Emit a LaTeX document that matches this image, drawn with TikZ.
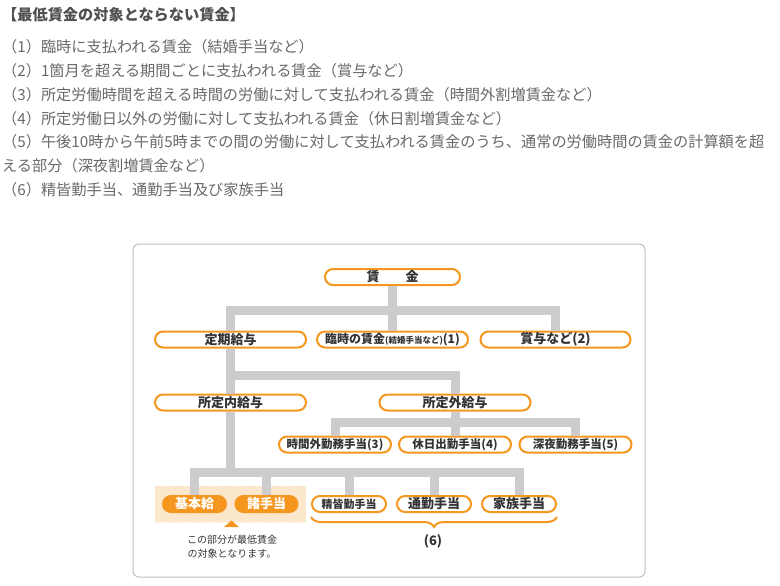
\documentclass[tikz,border=0pt]{standalone}
\usepackage{fontspec}
\setmainfont{Noto Sans CJK JP}
\usetikzlibrary{positioning}
\usetikzlibrary{fit}
\usetikzlibrary{backgrounds}
\usetikzlibrary{patterns}
\usetikzlibrary{decorations.pathreplacing}
\definecolor{chartorange}{RGB}{245,150,30}
\definecolor{bargray}{RGB}{204,204,204}
\definecolor{framegray}{RGB}{190,190,190}
\definecolor{textgray}{RGB}{105,105,105}
\definecolor{titlegray}{RGB}{80,80,80}
\definecolor{nodetext}{RGB}{51,51,51}
\definecolor{hlfill}{RGB}{253,237,214}
\definecolor{hlline}{RGB}{250,222,185}
\tikzset{
    treenode/.style = {align=center, inner sep=0pt, text centered},
    pill_node/.style = {treenode, rectangle, rounded corners=8pt, draw=chartorange, fill=white, line width=2pt, minimum height=16pt, text=nodetext, font=\bfseries\fontsize{13}{13}\selectfont},
    small_pill/.style = {pill_node, font=\bfseries\fontsize{11.5}{11.5}\selectfont},
    solid_node/.style = {pill_node, fill=chartorange, text=white},
    bar_line/.style = {draw=bargray, line width=9pt},
    body_text/.style = {anchor=base west, inner sep=0pt, text=textgray, font=\fontsize{15.2}{15.2}\selectfont},
    title_text/.style = {body_text, text=titlegray, font=\bfseries\fontsize{15.2}{15.2}\selectfont},
    note_text/.style = {treenode, text=nodetext, font=\fontsize{10}{14}\selectfont},
    hl_box/.style = {fill=hlfill, postaction={pattern=north east lines, pattern color=hlline}, inner xsep=7pt, inner ysep=9pt},
    frame_box/.style = {draw=framegray, line width=1pt, rounded corners=6pt}
}

\begin{document}
\begin{tikzpicture}
            [x=1pt, y=-1pt,
            brace_line/.style={draw=chartorange, line width=2pt, decorate, decoration={brace, mirror, amplitude=10pt}}]

            \useasboundingbox (0,0) rectangle (780,586);

            % list above the chart
            \node [title_text] (title) at (2,21) {【最低賃金の対象とならない賃金】};
            \foreach \txt [count=\i] in {
                （1）臨時に支払われる賃金（結婚手当など）,
                （2）1箇月を超える期間ごとに支払われる賃金（賞与など）,
                （3）所定労働時間を超える時間の労働に対して支払われる賃金（時間外割増賃金など）,
                （4）所定労働日以外の労働に対して支払われる賃金（休日割増賃金など）,
                （5）午後10時から午前5時までの間の労働に対して支払われる賃金のうち、通常の労働時間の賃金の計算額を超,
                える部分（深夜割増賃金など）,
                （6）精皆勤手当、通勤手当及び家族手当}
                \node [body_text] (line\i) at (2, {53+23.7*(\i-1)}) {\txt};

            % chart nodes
            \node [pill_node, minimum width=135pt] (kin) at (392.5,277) {賃\hspace{26pt}金};
            \node [pill_node, minimum width=151pt] (teiki) at (230.5,339.5) {定期給与};
            \node [pill_node, minimum width=151pt, font=\bfseries\fontsize{12}{12}\selectfont] (rinji) at (392.5,339.5)
                {臨時の賃金{\fontsize{8.5}{8.5}\selectfont(結婚手当など)}(1)};
            \node [pill_node, minimum width=150pt] (shoyo) at (555.5,339.5) {賞与など(2)};
            \node [pill_node, minimum width=151pt] (naikyu) at (230.5,402.5) {所定内給与};
            \node [pill_node, minimum width=151pt] (gaikyu) at (455,402.5) {所定外給与};
            \node [small_pill, minimum width=112pt] (jikangai) at (335,444.5) {時間外勤務手当(3)};
            \node [small_pill, minimum width=112pt] (kyujitsu) at (455,444.5) {休日出勤手当(4)};
            \node [small_pill, minimum width=112pt] (shinya) at (575.5,444.5) {深夜勤務手当(5)};
            \node [solid_node, minimum width=63pt] (kihon) at (194.5,504) {基本給};
            \node [solid_node, minimum width=62pt] (shote) at (266.5,504) {諸手当};
            \node [pill_node, minimum width=74pt, font=\bfseries\fontsize{11}{11}\selectfont] (seikai) at (349,504) {精皆勤手当};
            \node [pill_node, minimum width=74pt] (tsukin) at (434,504) {通勤手当};
            \node [pill_node, minimum width=74pt] (kazoku) at (519,504) {家族手当};

            \node [note_text] (note) at (232,547) {この部分が最低賃金\\の対象となります。};
            \node [treenode, text=nodetext, font=\bfseries\fontsize{13}{13}\selectfont] (six) at (433,541) {(6)};

            % junctions of the gray bars
            \coordinate (kinbar) at (392.5,310);
            \coordinate (naibar) at (230.5,375.5);
            \coordinate (gaibar) at (455,422.5);
            \coordinate (kihbar) at (230.5,472.5);

            \begin{scope}[on background layer]
                \draw [frame_box] (133,244) rectangle (645,577);
                \node [hl_box, fit=(kihon)(shote)] (hl) {};
            \end{scope}

            % gray bars
            \draw [bar_line] (teiki.north) |- (kinbar) -| (shoyo.north);
            \draw [bar_line] (kin.south) -- (rinji.north);
            \draw [bar_line] (teiki.south) -- (naikyu.north);
            \draw [bar_line] (naibar) -| (gaikyu.north);
            \draw [bar_line] (jikangai.north) |- (gaibar) -| (shinya.north);
            \draw [bar_line] (gaikyu.south) -- (kyujitsu.north);
            \draw [bar_line] (naikyu.south) -- (kihbar);
            \draw [bar_line] (kihon.north) |- (kihbar) -| (kazoku.north);
            \foreach \n in {shote, seikai, tsukin}
                \draw [bar_line] (\n.north) -- (\n.north |- kihbar);

            % brace and marker
            \draw [brace_line] ([yshift=-4pt]seikai.south west) -- ([yshift=-4pt]kazoku.south east);
            \fill [chartorange] (224,527) -- (239,527) -- (231.5,520.5) -- cycle;
        \end{tikzpicture}
\end{document}
